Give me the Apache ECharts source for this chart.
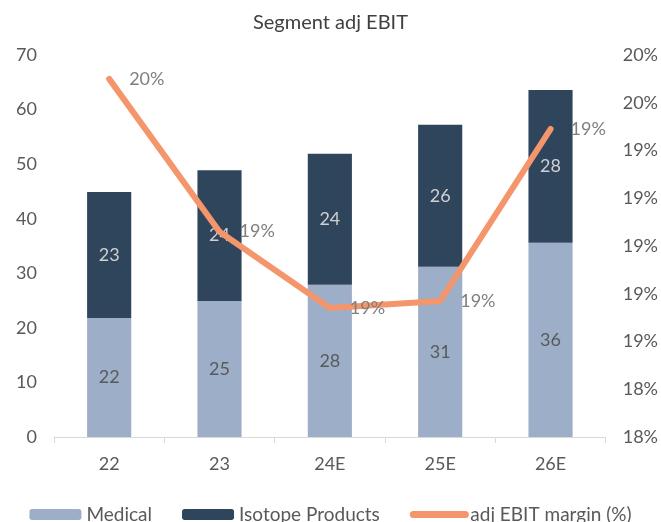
<!DOCTYPE html>
<html>
<head>
<meta charset="utf-8">
<script src="https://cdn.jsdelivr.net/npm/echarts@6/dist/echarts.min.js"></script>
<style>html,body{margin:0;padding:0;background:#fff}#chart{width:661px;height:522px}</style>
</head>
<body>
<div id="chart"></div>
<script>
var years = ['22', '23', '24E', '25E', '26E'];
var medical = [21.8, 24.9, 27.9, 31.2, 35.6];
var isotope = [23.1, 24.0, 24.0, 26.0, 28.0];
var margin = [19.70, 19.06, 18.74, 18.77, 19.49]; // %

var chart = echarts.init(document.getElementById('chart'));
var font = 'Lato, "DejaVu Sans", sans-serif';
var grey = '#595959';

chart.setOption({
    textStyle: {fontFamily: font},
    title: {
        text: 'Segment adj EBIT',
        left: 'center',
        top: 8,
        textStyle: {fontSize: 20, fontWeight: 'normal', color: '#404040', fontFamily: font}
    },
    legend: {
        top: 500,
        left: 'center',
        itemWidth: 52,
        itemHeight: 11,
        itemGap: 30,
        textStyle: {fontSize: 19, color: grey, fontFamily: font},
        data: [
            'Medical',
            'Isotope Products',
            {name: 'adj EBIT margin (%)', itemStyle: {opacity: 0}, lineStyle: {width: 7, cap: 'round'}}
        ]
    },
    grid: {left: 54, right: 54, top: 55, bottom: 85},
    xAxis: {
        type: 'category',
        data: years,
        axisLine: {lineStyle: {color: '#d9d9d9'}},
        axisTick: {show: true, length: 6, lineStyle: {color: '#d9d9d9'}},
        axisLabel: {fontSize: 18, color: grey, margin: 18}
    },
    yAxis: [
        {
            type: 'value',
            min: 0, max: 70, interval: 10,
            splitLine: {show: false},
            axisLabel: {fontSize: 18, color: grey, margin: 17}
        },
        {
            type: 'value',
            min: 18.2, max: 19.8, interval: 0.2,
            splitLine: {show: false},
            axisLabel: {
                fontSize: 18, color: grey, margin: 17,
                formatter: function (v) { return Math.round(v) + '%'; }
            }
        }
    ],
    series: [
        {
            name: 'Medical',
            type: 'bar',
            stack: 'ebit',
            barWidth: '40%',
            data: medical,
            itemStyle: {color: '#9DAEC8'},
            label: {
                show: true, position: 'inside', fontSize: 18, color: grey,
                formatter: function (p) { return Math.round(p.value); }
            }
        },
        {
            name: 'Isotope Products',
            type: 'bar',
            stack: 'ebit',
            data: isotope,
            itemStyle: {color: '#2E455C'},
            label: {
                show: true, position: 'inside', fontSize: 18, color: '#d0d0d0',
                formatter: function (p) { return Math.round(p.value); }
            }
        },
        {
            name: 'adj EBIT margin (%)',
            type: 'line',
            yAxisIndex: 1,
            data: margin,
            symbol: 'circle',
            symbolSize: 0.01,
            lineStyle: {color: '#F4956B', width: 6, cap: 'round'},
            itemStyle: {color: '#F4956B'},
            label: {
                show: true, position: 'right', distance: 20,
                fontSize: 18, color: '#7f7f7f',
                formatter: function (p) { return Math.round(p.value) + '%'; }
            },
            z: 5
        }
    ]
});
</script>
</body>
</html>
